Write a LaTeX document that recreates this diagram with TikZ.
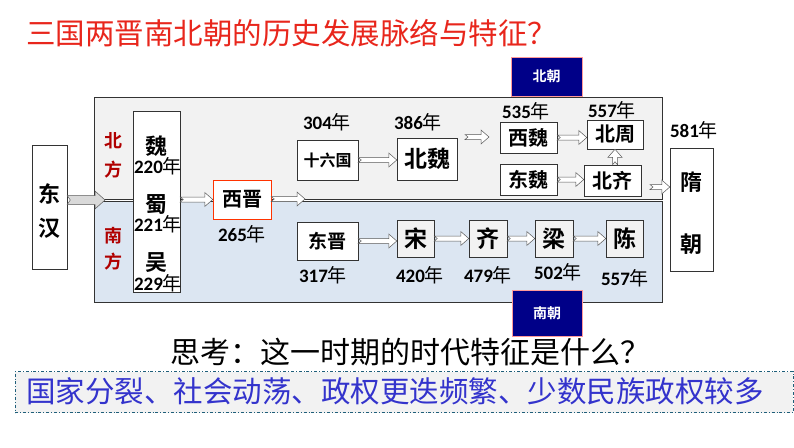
\documentclass[tikz,border=0pt]{standalone}
\usepackage{fontspec}
\usetikzlibrary{calc}
\newfontfamily\cjk{Noto Sans CJK SC}
\newfontfamily\cjkb{Noto Sans CJK SC Bold}
\newfontfamily\numf{Carlito}[BoldFont={Carlito Bold}]
\definecolor{titlered}{HTML}{E8261C}
\definecolor{darkred}{HTML}{B00000}
\definecolor{navy2}{HTML}{000088}
\definecolor{gbox}{HTML}{F2F2F2}
\definecolor{bbox}{HTML}{DCE6F2}
\definecolor{txtblue}{HTML}{3333CC}
\definecolor{dashteal}{HTML}{1F5F7A}
\newcommand{\yr}[1]{{\numf\bfseries #1}{\cjk 年}}
\begin{document}
\begin{tikzpicture}[x=1pt,y=-1pt,
  box/.style={draw=black!80,line width=0.5pt,fill=white,inner sep=0pt},
  gbx/.style={draw=black!80,line width=0.5pt,fill=gbox,inner sep=0pt},
  lab/.style={font=\cjkb\fontsize{20}{20}\selectfont,inner sep=0pt},
  yrl/.style={font=\fontsize{19}{19}\selectfont,inner sep=0pt},
  blkpath/.style n args={4}{to path={
    coordinate (bs) at (\tikztostart) coordinate (bt) at (\tikztotarget)
    coordinate (bh) at ($(bt)!#3!(bs)$)
    ($(bs)!#1!90:(bt)$) -- ($(bh)!#1!90:(bt)$) -- ($(bh)!#2!90:(bt)$) -- (bt)
    -- ($(bh)!#2!-90:(bt)$) -- ($(bh)!#1!-90:(bt)$) -- ($(bs)!#1!-90:(bt)$)
    -- ($(bs)!#4!(bt)$) -- cycle}},
  blk/.style={blkpath={2.5pt}{7pt}{8pt}{3pt},draw=black!65,line width=0.5pt,fill=white},
  bigblk/.style={blkpath={4.5pt}{9pt}{10pt}{3pt},draw=black!65,line width=0.5pt,fill=black!15},
  sidel/.style={font=\cjkb\fontsize{18}{18}\selectfont,text=darkred,inner sep=0pt},
  chao/.style={fill=navy2,draw=red!40,line width=0.4pt,text=white,font=\cjkb\fontsize{14}{14}\selectfont}]
\useasboundingbox (0,0) rectangle (794,447);
% title
\node[anchor=west,text=titlered,font=\cjk\fontsize{29.5}{29.5}\selectfont,inner sep=0pt] (title) at (26,33) {三国两晋南北朝的历史发展脉络与特征？};
% background regions
\node[gbx,minimum width=568pt,minimum height=102pt] (north) at (378,148) {};
\node[draw=black!80,line width=0.5pt,fill=bbox,minimum width=568pt,minimum height=101pt] (south) at (378,251.5) {};
% dynasty labels
\node[chao,minimum width=71pt,minimum height=39pt] (beichao) at (546.5,76.5) {北朝};
\node[chao,minimum width=70pt,minimum height=46pt] (nanchao) at (547,313) {南朝};
% side labels
\node[sidel] (bei) at (113,141) {北};
\node[sidel] (fang1) at (113,170) {方};
\node[sidel] (nan) at (113,236) {南};
\node[sidel] (fang2) at (113,262) {方};
% Donghan
\node[box,minimum width=35pt,minimum height=124pt] (donghan) at (49.5,207) {};
\node[lab,font=\cjkb\fontsize{22}{22}\selectfont] (dh1) at (49.5,194) {东};
\node[lab,font=\cjkb\fontsize{22}{22}\selectfont] (dh2) at (49.5,228) {汉};
% Three kingdoms
\node[box,minimum width=47pt,minimum height=181pt] (sanguo) at (156.5,201.5) {};
\node[lab,font=\cjkb\fontsize{22}{22}\selectfont] (wei) at (156,146) {魏};
\node[yrl] (y220) at (158,166) {\yr{220}};
\node[lab,font=\cjkb\fontsize{22}{22}\selectfont] (shu) at (156,204) {蜀};
\node[yrl] (y221) at (158,224) {\yr{221}};
\node[lab,font=\cjkb\fontsize{22}{22}\selectfont] (wu) at (156,263) {吴};
\node[yrl] (y229) at (158,283) {\yr{229}};
% Xijin
\node[box,draw=red!60!orange,minimum width=58pt,minimum height=39pt] (xijin) at (242,199.5) {};
\node[lab] (xjt) at (242,199.5) {西晋};
\node[yrl] (y265) at (242,234) {\yr{265}};
% north row
\node[box,minimum width=61pt,minimum height=40pt,font=\cjkb\fontsize{16}{16}\selectfont] (sljg) at (327.5,160) {十六国};
\node[yrl] (y304) at (327,122) {\yr{304}};
\node[box,minimum width=60pt,minimum height=42pt,font=\cjkb\fontsize{23}{23}\selectfont] (beiwei) at (427,159) {北魏};
\node[yrl] (y386) at (418,122) {\yr{386}};
\node[box,minimum width=57pt,minimum height=31pt,font=\cjkb\fontsize{20}{20}\selectfont] (xiwei) at (528.5,137.5) {西魏};
\node[yrl] (y535) at (526,111) {\yr{535}};
\node[box,minimum width=57pt,minimum height=31pt,font=\cjkb\fontsize{20}{20}\selectfont] (dongwei) at (528.5,179.5) {东魏};
\node[box,minimum width=56pt,minimum height=29pt,font=\cjkb\fontsize{20}{20}\selectfont] (beizhou) at (615,134.5) {北周};
\node[yrl] (y557a) at (612,110) {\yr{557}};
\node[box,minimum width=57pt,minimum height=31pt,font=\cjkb\fontsize{20}{20}\selectfont] (beiqi) at (612.5,180.5) {北齐};
% Sui
\node[box,minimum width=43pt,minimum height=123pt] (sui) at (691.5,209.5) {};
\node[lab,font=\cjkb\fontsize{22}{22}\selectfont] (sui1) at (691.5,182) {隋};
\node[lab,font=\cjkb\fontsize{22}{22}\selectfont] (sui2) at (691.5,244) {朝};
\node[yrl] (y581) at (694,130) {\yr{581}};
% south row
\node[box,minimum width=61pt,minimum height=38pt,font=\cjkb\fontsize{19}{19}\selectfont] (dongjin) at (327.5,241) {东晋};
\node[yrl] (y317) at (323,275) {\yr{317}};
\node[gbx,minimum width=37pt,minimum height=37pt,font=\cjkb\fontsize{23}{23}\selectfont] (song) at (415.5,238.5) {宋};
\node[yrl] (y420) at (420,275) {\yr{420}};
\node[gbx,minimum width=38pt,minimum height=37pt,font=\cjkb\fontsize{23}{23}\selectfont] (qi) at (488,238.5) {齐};
\node[yrl] (y479) at (488,275) {\yr{479}};
\node[gbx,minimum width=38pt,minimum height=37pt,font=\cjkb\fontsize{23}{23}\selectfont] (liang) at (554,238.5) {梁};
\node[yrl] (y502) at (558,272) {\yr{502}};
\node[gbx,minimum width=37pt,minimum height=37pt,font=\cjkb\fontsize{23}{23}\selectfont] (chen) at (624.5,238.5) {陈};
\node[yrl] (y557b) at (625,278) {\yr{557}};
% free-end coordinates
\coordinate (dhend) at (105,200);
\coordinate (xjend) at (305,199);
\coordinate (bwstart) at (465,137);
\coordinate (bwend) at (489,137);
\coordinate (nstart) at (650,187);
% arrows
\draw[bigblk] (donghan.east|-dhend) to (dhend);
\draw[blk] (sanguo.east|-xijin) to (xijin.west);
\draw[blk] (xijin.east|-xjend) to (xjend);
\draw[blk] (sljg.east) to (beiwei.west|-sljg.east);
\draw[blk] (bwstart) to (bwend);
\draw[blk] (xiwei.east) to (beizhou.west|-xiwei.east);
\draw[blk] (dongwei.east) to (beiqi.west|-dongwei.east);
\draw[blk] (beizhou.south|-beiqi.north) to (beizhou.south);
\draw[blk] (nstart) to (sui.west|-nstart);
\draw[blk] (dongjin.east) to (song.west|-dongjin.east);
\draw[blk] (song.east) to (qi.west);
\draw[blk] (qi.east) to (liang.west);
\draw[blk] (liang.east) to (chen.west);
% question
\node[font=\cjk\fontsize{30}{30}\selectfont,inner sep=0pt] (q) at (410,352) {思考：这一时期的时代特征是什么？};
% answer box
\node[draw=dashteal,line width=0.8pt,dash dot,fill=gbox,minimum width=778pt,minimum height=41pt] (ans) at (404,392) {};
\node[text=txtblue,font=\cjk\fontsize{29.5}{29.5}\selectfont,inner sep=0pt] (anst) at (395,391) {国家分裂、社会动荡、政权更迭频繁、少数民族政权较多};
\end{tikzpicture}
\end{document}
